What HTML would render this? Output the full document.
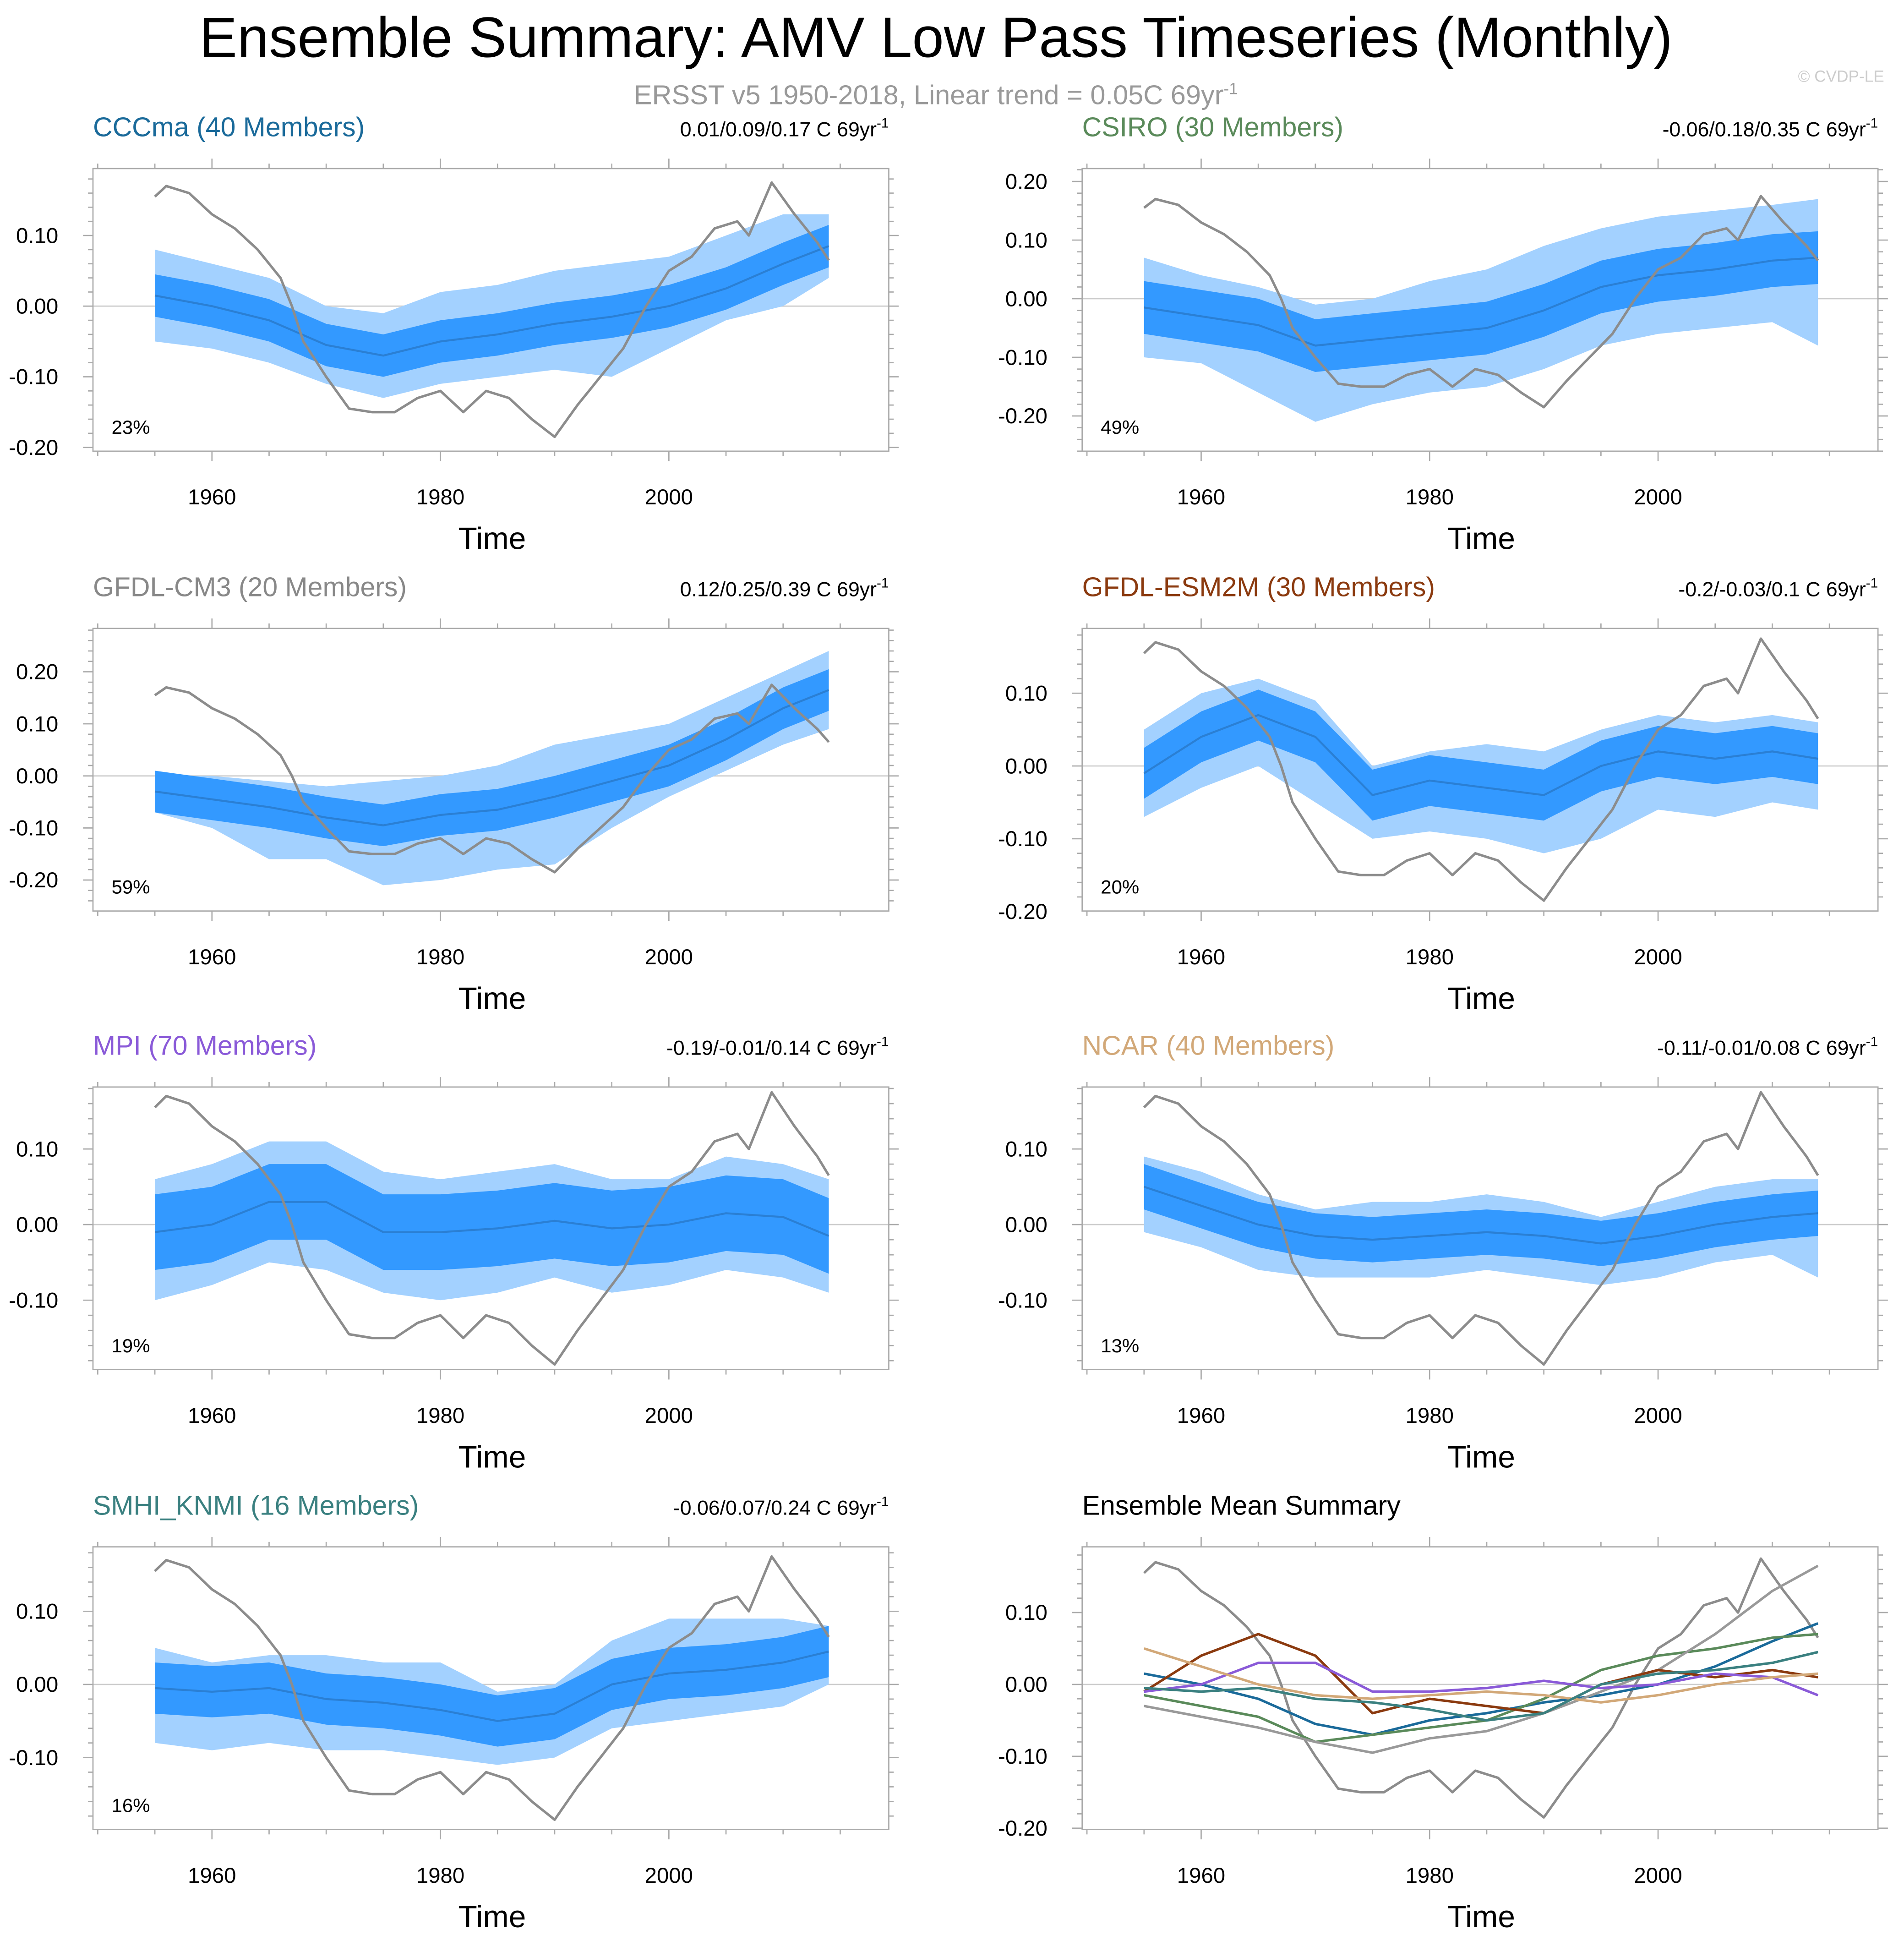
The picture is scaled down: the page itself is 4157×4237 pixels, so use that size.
<!DOCTYPE html>
<html><head><meta charset="utf-8"><style>
html,body{margin:0;padding:0;background:#fff}
svg{display:block;font-family:"Liberation Sans",Arial,sans-serif}
</style></head><body>
<svg id="chart" xmlns="http://www.w3.org/2000/svg" width="4157" height="4237" viewBox="0 0 1536 1566" preserveAspectRatio="none">
<text x="755" y="46" font-size="46" text-anchor="middle">Ensemble Summary: AMV Low Pass Timeseries (Monthly)</text>
<text x="755" y="84" font-size="22" fill="#999" text-anchor="middle">ERSST v5 1950-2018, Linear trend = 0.05C 69yr<tspan dy="-8" font-size="13">-1</tspan></text>
<text x="1520" y="66" font-size="13" fill="#ccc" text-anchor="end">© CVDP-LE</text>
<g id="panels"></g>
</svg>
<script>
const years = [1955,1960,1965,1970,1975,1980,1985,1990,1995,2000,2005,2010,2014];
const obsYears = [1955,1956,1958,1960,1962,1964,1966,1967,1968,1970,1972,1974,1976,1978,1980,1981,1982,1984,1986,1988,1990,1992,1994,1996,1998,2000,2002,2004,2006,2007,2009,2011,2013,2014];
const obsValues = [0.155,0.17,0.16,0.13,0.11,0.08,0.04,0.0,-0.05,-0.1,-0.145,-0.15,-0.15,-0.13,-0.12,-0.135,-0.15,-0.12,-0.13,-0.16,-0.185,-0.14,-0.1,-0.06,0.0,0.05,0.07,0.11,0.12,0.10,0.175,0.13,0.09,0.065];
const xTicks = [1960,1980,2000];

const cccmaMean = [0.015,0,-0.02,-0.055,-0.07,-0.05,-0.04,-0.025,-0.015,0,0.025,0.06,0.085];
const cccmaDark = [0.03,0.03,0.03,0.03,0.03,0.03,0.03,0.03,0.03,0.03,0.03,0.03,0.03];
const cccmaHi = [0.08,0.06,0.04,0.0,-0.01,0.02,0.03,0.05,0.06,0.07,0.10,0.13,0.13];
const cccmaLo = [-0.05,-0.06,-0.08,-0.11,-0.13,-0.11,-0.10,-0.09,-0.10,-0.06,-0.02,0,0.04];

const csiroMean = [-0.015,-0.03,-0.045,-0.08,-0.07,-0.06,-0.05,-0.02,0.02,0.04,0.05,0.065,0.07];
const csiroDark = [0.045,0.045,0.045,0.045,0.045,0.045,0.045,0.045,0.045,0.045,0.045,0.045,0.045];
const csiroHi = [0.07,0.04,0.02,-0.01,0.0,0.03,0.05,0.09,0.12,0.14,0.15,0.16,0.17];
const csiroLo = [-0.10,-0.11,-0.16,-0.21,-0.18,-0.16,-0.15,-0.12,-0.08,-0.06,-0.05,-0.04,-0.08];

const cm3Mean = [-0.03,-0.045,-0.06,-0.08,-0.095,-0.075,-0.065,-0.04,-0.01,0.02,0.07,0.13,0.165];
const cm3Dark = [0.04,0.04,0.04,0.04,0.04,0.04,0.04,0.04,0.04,0.04,0.04,0.04,0.04];
const cm3Hi = [0.0,0.0,-0.01,-0.02,-0.01,0.0,0.02,0.06,0.08,0.10,0.15,0.20,0.24];
const cm3Lo = [-0.07,-0.10,-0.16,-0.16,-0.21,-0.20,-0.18,-0.17,-0.10,-0.04,0.01,0.06,0.09];

const esm2mMean = [-0.01,0.04,0.07,0.04,-0.04,-0.02,-0.03,-0.04,0.0,0.02,0.01,0.02,0.01];
const esm2mDark = [0.035,0.035,0.035,0.035,0.035,0.035,0.035,0.035,0.035,0.035,0.035,0.035,0.035];
const esm2mHi = [0.05,0.10,0.12,0.09,0.0,0.02,0.03,0.02,0.05,0.07,0.06,0.07,0.06];
const esm2mLo = [-0.07,-0.03,0.0,-0.05,-0.10,-0.09,-0.10,-0.12,-0.10,-0.06,-0.07,-0.05,-0.06];

const mpiMean = [-0.01,0,0.03,0.03,-0.01,-0.01,-0.005,0.005,-0.005,0,0.015,0.01,-0.015];
const mpiDark = [0.05,0.05,0.05,0.05,0.05,0.05,0.05,0.05,0.05,0.05,0.05,0.05,0.05];
const mpiHi = [0.06,0.08,0.11,0.11,0.07,0.06,0.07,0.08,0.06,0.06,0.09,0.08,0.06];
const mpiLo = [-0.10,-0.08,-0.05,-0.06,-0.09,-0.10,-0.09,-0.07,-0.09,-0.08,-0.06,-0.07,-0.09];

const ncarMean = [0.05,0.025,0,-0.015,-0.02,-0.015,-0.01,-0.015,-0.025,-0.015,0,0.01,0.015];
const ncarDark = [0.03,0.03,0.03,0.03,0.03,0.03,0.03,0.03,0.03,0.03,0.03,0.03,0.03];
const ncarHi = [0.09,0.07,0.04,0.02,0.03,0.03,0.04,0.03,0.01,0.03,0.05,0.06,0.06];
const ncarLo = [-0.01,-0.03,-0.06,-0.07,-0.07,-0.07,-0.06,-0.07,-0.08,-0.07,-0.05,-0.04,-0.07];

const smhiMean = [-0.005,-0.01,-0.005,-0.02,-0.025,-0.035,-0.05,-0.04,0.0,0.015,0.02,0.03,0.045];
const smhiDark = [0.035,0.035,0.035,0.035,0.035,0.035,0.035,0.035,0.035,0.035,0.035,0.035,0.035];
const smhiHi = [0.05,0.03,0.04,0.04,0.03,0.03,-0.01,0.0,0.06,0.09,0.09,0.09,0.08];
const smhiLo = [-0.08,-0.09,-0.08,-0.09,-0.09,-0.10,-0.11,-0.10,-0.06,-0.05,-0.04,-0.03,0.0];

const panels = [
 {key:'cccma',title:'CCCma (40 Members)',color:'#1a6a9a',trend:'0.01/0.09/0.17 C 69yr',pct:'23%',col:0,row:0,y0:247,ppu:570,yt:[0.1,0,-0.1,-0.2],mean:cccmaMean,dark:cccmaDark,hi:cccmaHi,lo:cccmaLo},
 {key:'csiro',title:'CSIRO (30 Members)',color:'#5a8a5a',trend:'-0.06/0.18/0.35 C 69yr',pct:'49%',col:1,row:0,y0:241,ppu:473,yt:[0.2,0.1,0,-0.1,-0.2],mean:csiroMean,dark:csiroDark,hi:csiroHi,lo:csiroLo},
 {key:'gfdl-cm3',title:'GFDL-CM3 (20 Members)',color:'#888888',trend:'0.12/0.25/0.39 C 69yr',pct:'59%',col:0,row:1,y0:626,ppu:420,yt:[0.2,0.1,0,-0.1,-0.2],mean:cm3Mean,dark:cm3Dark,hi:cm3Hi,lo:cm3Lo},
 {key:'gfdl-esm2m',title:'GFDL-ESM2M (30 Members)',color:'#8b3a0f',trend:'-0.2/-0.03/0.1 C 69yr',pct:'20%',col:1,row:1,y0:618,ppu:587,yt:[0.1,0,-0.1,-0.2],mean:esm2mMean,dark:esm2mDark,hi:esm2mHi,lo:esm2mLo},
 {key:'mpi',title:'MPI (70 Members)',color:'#8a5ad8',trend:'-0.19/-0.01/0.14 C 69yr',pct:'19%',col:0,row:2,y0:988,ppu:610,yt:[0.1,0,-0.1],mean:mpiMean,dark:mpiDark,hi:mpiHi,lo:mpiLo},
 {key:'ncar',title:'NCAR (40 Members)',color:'#d2a878',trend:'-0.11/-0.01/0.08 C 69yr',pct:'13%',col:1,row:2,y0:988,ppu:610,yt:[0.1,0,-0.1],mean:ncarMean,dark:ncarDark,hi:ncarHi,lo:ncarLo},
 {key:'smhi-knmi',title:'SMHI_KNMI (16 Members)',color:'#3a8080',trend:'-0.06/0.07/0.24 C 69yr',pct:'16%',col:0,row:3,y0:1359,ppu:590,yt:[0.1,0,-0.1],mean:smhiMean,dark:smhiDark,hi:smhiHi,lo:smhiLo},
 {key:'summary',title:'Ensemble Mean Summary',color:'#000',trend:null,pct:null,col:1,row:3,y0:1359,ppu:580,yt:[0.1,0,-0.1,-0.2],summary:true}
];
const NS='http://www.w3.org/2000/svg';
const root=document.getElementById('panels');
function mk(tag,attrs,parent){const e=document.createElementNS(NS,tag);for(const k in attrs)e.setAttribute(k,attrs[k]);parent.appendChild(e);return e;}
const tops=[136,507,877,1248];
panels.forEach(p=>{
 const ox=p.col*798, top=tops[p.row], bot=top+228, L=75+ox, R=717+ox;
 const xs=y=>171+ox+(y-1960)*9.215;
 const ys=v=>p.y0-v*p.ppu;
 const g=mk('g',{},root);
 
 
 const t=mk('text',{x:L,y:top-26,'font-size':21.8,fill:p.color},g);t.textContent=p.title;
 
 
 if(p.trend){const tr=mk('text',{x:R,y:top-26,'font-size':16.5,'text-anchor':'end'},g);tr.textContent=p.trend;
  const s=mk('tspan',{dy:-7,'font-size':11},tr);s.textContent='-1';
  
  }
 const clip='clip-'+p.key;
 const cp=mk('clipPath',{id:clip},g);mk('rect',{x:L,y:top,width:R-L,height:bot-top},cp);
 const pg=mk('g',{'clip-path':'url(#'+clip+')'},g);
 function band(hi,lo,fill,name){
  let d='';years.forEach((y,i)=>{d+=(i?'L':'M')+xs(y)+','+ys(hi[i]);});
  for(let i=years.length-1;i>=0;i--)d+='L'+xs(years[i])+','+ys(lo[i]);
  const b=mk('path',{d:d+'Z',fill:fill},pg);
  
  
 }
 function line(xv,yv,stroke,w,name){
  let d='';xv.forEach((y,i)=>{d+=(i?'L':'M')+xs(y)+','+ys(yv[i]);});
  const l=mk('path',{d:d,fill:'none',stroke:stroke,'stroke-width':w,'stroke-linejoin':'round'},pg);
  
  
 }
 mk('line',{x1:L,x2:R,y1:ys(0),y2:ys(0),stroke:'#ccc','stroke-width':1},pg);
 if(!p.summary){
  band(p.hi,p.lo,'#a3d1ff','ensemble-range-band');
  band(p.mean.map((m,i)=>m+p.dark[i]),p.mean.map((m,i)=>m-p.dark[i]),'#3399ff','ensemble-spread-band');
  line(years,p.mean,'#2a7fd4',1.6,'ensemble-mean-line');
  line(obsYears,obsValues,'#8c8c8c',2,'observed-line');
 } else {
  line(obsYears,obsValues,'#8c8c8c',2,'observed-line');
  panels.filter(q=>!q.summary).forEach(q=>line(years,q.mean,q.color==='#888888'?'#999':q.color,2,'mean-line-'+q.key));
 }
 const box=mk('rect',{x:L,y:top,width:R-L,height:bot-top,fill:'none',stroke:'#aaa','stroke-width':1},g);
 
 
 const ymin=(p.y0-bot)/p.ppu, ymax=(p.y0-top)/p.ppu;
 for(let v=Math.ceil(ymin*50)/50; v<=ymax; v+=0.02){
  const yy=ys(v), major=Math.abs(Math.round(v*100)%10)<0.5;
  mk('line',{x1:L-(major?8:4),x2:L,y1:yy,y2:yy,stroke:'#aaa'},g);
  mk('line',{x1:R,x2:R+(major?8:4),y1:yy,y2:yy,stroke:'#aaa'},g);
 }
 p.yt.forEach(v=>{const tt=mk('text',{x:L-28,y:ys(v)+6,'font-size':17.5,'text-anchor':'end'},g);tt.textContent=(v<0?'-':'')+Math.abs(v).toFixed(2);
  
  });
 for(let y=1950;y<=2015;y+=5){const xx=xs(y);const major=y%20===0;
  mk('line',{x1:xx,x2:xx,y1:bot,y2:bot+(major?8:4),stroke:'#aaa'},g);
  mk('line',{x1:xx,x2:xx,y1:top-(major?8:4),y2:top,stroke:'#aaa'},g);}
 xTicks.forEach(y=>{const tt=mk('text',{x:xs(y),y:bot+43,'font-size':17.5,'text-anchor':'middle'},g);tt.textContent=y;
  
  });
 const xt=mk('text',{x:397+ox,y:bot+79,'font-size':25,'text-anchor':'middle'},g);xt.textContent='Time';
 
 
 if(p.pct){const pc=mk('text',{x:L+15,y:bot-14,'font-size':15.5},g);pc.textContent=p.pct;
  
  }
});
</script>
</body></html>
